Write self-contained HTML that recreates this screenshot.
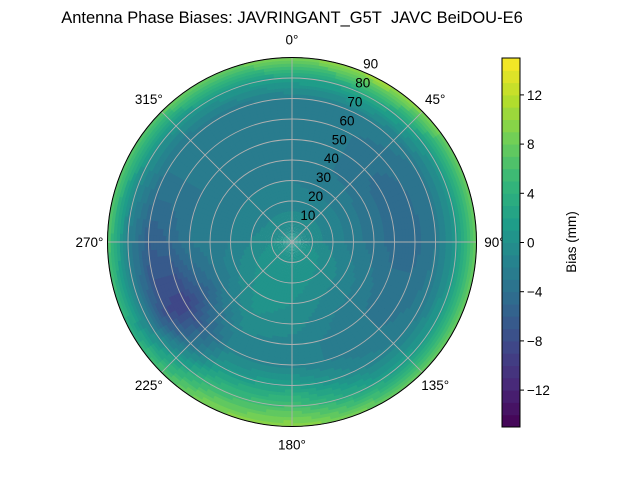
<!DOCTYPE html>
<html><head><meta charset="utf-8"><style>
body{margin:0;background:#fff;}
svg{display:block;font-family:"Liberation Sans",sans-serif;}
</style></head><body>
<svg id="chart" width="640" height="480" viewBox="0 0 640 480">
<text x="292" y="23" text-anchor="middle" font-size="16.5">Antenna Phase Biases: JAVRINGANT_G5T&#160; JAVC BeiDOU-E6</text>
<g id="field"></g>
<g id="grid"></g>
<g id="cbar"></g>
</svg>
<script>
const azimuths = [0,30,60,90,120,150,180,210,240,270,300,330];
const zeniths = [0,10,20,30,40,50,60,70,80,90];
const biasRows = [
 [0.5,-0.5,-1.5,-2,-2.5,-3,-3,-2,2,9],
 [0.5,-0.5,-1.5,-2.5,-3,-3,-3,-2,3,11],
 [0.5,-0.5,-1.5,-2.5,-3.5,-4.5,-4,-3,1,8],
 [0.5,-0.5,-1.5,-2.5,-3.5,-4.5,-4.5,-3,1,8],
 [0.5,0.5,-0.5,-1.5,-2.5,-3.5,-3.5,-2.5,1,8],
 [0.5,0.5,0,-1,-2,-2.5,-2.5,-1.5,2,8],
 [0.5,0.5,0.5,0,-0.5,-1.5,-1.5,2,6,10],
 [0.5,1,1,0.5,0,-1,-1.5,1,5,9],
 [0.5,0.5,0,-1,-3,-6,-9,-8,-2,4],
 [0.5,0,-1,-2,-2.5,-3,-5,-6,-2,7],
 [0.5,-0.5,-1.5,-2,-2.5,-3,-3,-3,0,7],
 [0.5,-0.5,-1.5,-2,-2.5,-3,-3,-3,1,8]
];
const cbTicks = [-12,-8,-4,0,4,8,12];
const ringLabels = [10,20,30,40,50,60,70,80,90];
const angleLabels = [0,45,90,135,180,225,270,315];
const vmin=-15, vmax=15;

const NS="http://www.w3.org/2000/svg";
const cx=292, cy=242, R=184.5;
const rScale = z => z/90*R;
function pt(az,z){const a=az*Math.PI/180, r=rScale(z);return [cx+r*Math.sin(a), cy-r*Math.cos(a)];}
const stops=["#440154","#482878","#3e4989","#31688e","#26828e","#1f9e89","#35b779","#6ece58","#b5de2b","#fde725"];
function hex(h){return [1,3,5].map(i=>parseInt(h.substr(i,2),16));}
function viridis(t){t=Math.max(0,Math.min(1,t));const f=t*(stops.length-1);const i=Math.min(stops.length-2,Math.floor(f));const u=f-i;const a=hex(stops[i]),b=hex(stops[i+1]);return "rgb("+a.map((v,k)=>Math.round(v+(b[k]-v)*u)).join(",")+")";}
function levelColor(v){let lv=Math.floor(v);lv=Math.max(vmin,Math.min(vmax-1,lv));return viridis((lv-vmin+0.5)/(vmax-vmin));}
function sample(az,z){
  const n=azimuths.length, step=360/n;
  const ai=az/step, i0=Math.floor(ai)%n, i1=(i0+1)%n, u=ai-Math.floor(ai);
  const zs=zeniths[1]-zeniths[0]; let zi=z/zs; let j0=Math.min(zeniths.length-2,Math.floor(zi)); const w=zi-j0;
  const a=biasRows[i0][j0]*(1-w)+biasRows[i0][j0+1]*w;
  const b=biasRows[i1][j0]*(1-w)+biasRows[i1][j0+1]*w;
  return a*(1-u)+b*u;
}
const field=document.getElementById('field');
const dA=3, dZ=1.5;
for(let az=0;az<360;az+=dA){
  for(let z=0;z<90;z+=dZ){
    const v=sample(az+dA/2,z+dZ/2);
    const p1=pt(az-0.3,z),p2=pt(az+dA+0.3,z),p3=pt(az+dA+0.3,z+dZ+0.2),p4=pt(az-0.3,z+dZ+0.2);
    const e=document.createElementNS(NS,'path');
    e.setAttribute('d',`M${p1}L${p2}L${p3}L${p4}Z`);
    e.setAttribute('fill',levelColor(v));
    
    
    field.appendChild(e);
  }
}
const grid=document.getElementById('grid');
function add(parent,tag,attrs,text){const e=document.createElementNS(NS,tag);for(const k in attrs)e.setAttribute(k,attrs[k]);if(text!==undefined)e.textContent=text;parent.appendChild(e);return e;}
ringLabels.forEach(z=>{
  const c=add(grid,'circle',{cx:cx,cy:cy,r:rScale(z),fill:'none',stroke:'#b0b0b0','stroke-width':0.9});
  
  
});
angleLabels.forEach(a=>{
  const p=pt(a,90);
  const l=add(grid,'line',{x1:cx,y1:cy,x2:p[0],y2:p[1],stroke:'#b0b0b0','stroke-width':0.9});
  
  
});
const border=add(grid,'circle',{cx:cx,cy:cy,r:R,fill:'none',stroke:'#000','stroke-width':1});


ringLabels.forEach(z=>{
  const p=pt(22.5,z);
  const t=add(grid,'text',{x:p[0]+8,y:p[1]-3,'font-size':13.5,'text-anchor':'middle'},String(z));
  
  
});
angleLabels.forEach(a=>{
  const rr=R+18; const ar=a*Math.PI/180;
  const x=cx+rr*Math.sin(ar), y=cy-rr*Math.cos(ar)+5;
  const t=add(grid,'text',{x:x,y:y,'font-size':13.5,'text-anchor':'middle'},a+'°');
  
  
});
// colorbar
const cb=document.getElementById('cbar');
const cbx=502,cbw=18,cbTop=58,cbBot=427;
const cbY=v=>cbBot-(v-vmin)/(vmax-vmin)*(cbBot-cbTop);
for(let v=vmin;v<vmax;v++){
  const r=add(cb,'rect',{x:cbx,y:cbY(v+1),width:cbw,height:cbY(v)-cbY(v+1)+0.5,fill:levelColor(v+0.5)});
  
  
}
const cbo=add(cb,'rect',{x:cbx,y:cbTop,width:cbw,height:cbBot-cbTop,fill:'none',stroke:'#000','stroke-width':1});


cbTicks.forEach(v=>{
  const y=cbY(v);
  const l=add(cb,'line',{x1:cbx+cbw,y1:y,x2:cbx+cbw+4,y2:y,stroke:'#000','stroke-width':1});
  
  
  const t=add(cb,'text',{x:cbx+cbw+7,y:y+5,'font-size':13.5},(v<0?'\u2212'+(-v):String(v)));
  
  
});
const lab=add(cb,'text',{x:576,y:242,'font-size':13.5,'text-anchor':'middle',transform:'rotate(-90 576 242)'},'Bias (mm)');


</script>
</body></html>
